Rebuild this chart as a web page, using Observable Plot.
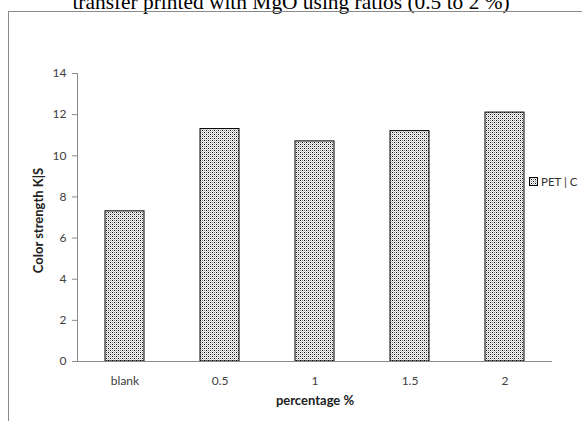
<!DOCTYPE html>
<html><head><meta charset="utf-8">
<script src="https://cdn.jsdelivr.net/npm/d3@7"></script>
<script src="https://cdn.jsdelivr.net/npm/@observablehq/plot@0.6"></script>
<style>
body{margin:0;background:#fff;width:582px;height:421px;overflow:hidden;position:relative;}
#title{position:absolute;left:0;width:582px;top:-10px;text-align:center;font-family:"Liberation Serif","Times New Roman",serif;font-size:21.4px;color:#000;white-space:nowrap;}
#frame{position:absolute;left:8px;top:11px;width:600px;height:440px;border:1px solid #8a8a8a;}
#chart{position:absolute;left:0;top:0;}
#legend{position:absolute;left:529px;top:175px;font-family:Lato,"Open Sans",sans-serif;font-size:11.5px;color:#333;display:flex;align-items:center;}
#legend svg{margin-right:3px;}
</style></head>
<body>
<div id="title">transfer printed with MgO using ratios (0.5 to 2 %)</div>
<div id="frame"></div>
<div id="chart"></div>
<div id="legend"></div>
<script>
const categories = ["blank", "0.5", "1", "1.5", "2"];
const values = [7.3, 11.3, 10.7, 11.2, 12.1];
const yTicks = [0, 2, 4, 6, 8, 10, 12, 14];
const seriesName = "PET | C";

const data = categories.map((c, i) => ({cat: c, v: values[i]}));
const font = "Lato, 'Open Sans', sans-serif";

const chart = Plot.plot({
  width: 582, height: 421,
  marginLeft: 77, marginRight: 30, marginTop: 73, marginBottom: 60,
  style: {fontFamily: font, fontSize: "12px", color: "#404040", background: "transparent"},
  x: {domain: categories, paddingInner: 0.59, paddingOuter: 0.295, label: null},
  y: {domain: [0, 14], ticks: yTicks, label: null},
  marks: [
    Plot.barY(data, {x: "cat", y: "v", fill: "url(#dots)", stroke: "#000", strokeWidth: 1}),
    Plot.ruleY([0], {stroke: "#8a8a8a", insetLeft: -3}),
    Plot.frame({anchor: "left", stroke: "#8a8a8a"}),
    Plot.axisY({ticks: yTicks, tickSize: 5, tickPadding: 6, fontSize: 12, stroke: "#8a8a8a", label: null}),
    Plot.axisX({tickSize: 0, tickPadding: 15, fontSize: 12, label: null}),
    Plot.text(["percentage %"], {frameAnchor: "bottom", dy: 43, fontWeight: "bold", fontSize: 13, fill: "#222"}),
    Plot.text(["Color strength K|S"], {frameAnchor: "left", textAnchor: "middle", dx: -39, dy: 3, rotate: -90, fontWeight: "bold", fontSize: 13, fill: "#222"})
  ]
});

const ns = "http://www.w3.org/2000/svg";
function addPattern(svg, id) {
  const defs = document.createElementNS(ns, "defs");
  defs.innerHTML = `<pattern id="${id}" width="4" height="4" patternUnits="userSpaceOnUse">
    <rect width="4" height="4" fill="#ffffff"/>
    <rect x="0" y="0" width="1" height="1" fill="#000"/>
    <rect x="2" y="2" width="1" height="1" fill="#000"/>
    <rect x="2" y="0" width="1" height="1" fill="#7c7c7c"/>
    <rect x="0" y="2" width="1" height="1" fill="#7c7c7c"/>
    <rect x="1" y="1" width="1" height="1" fill="#c8c8c8"/>
    <rect x="3" y="3" width="1" height="1" fill="#c8c8c8"/>
    <rect x="1" y="3" width="1" height="1" fill="#c8c8c8"/>
    <rect x="3" y="1" width="1" height="1" fill="#c8c8c8"/>
  </pattern>`;
  svg.insertBefore(defs, svg.firstChild);
}
addPattern(chart, "dots");
document.getElementById("chart").appendChild(chart);

const leg = document.getElementById("legend");
const sw = document.createElementNS(ns, "svg");
sw.setAttribute("width", 9); sw.setAttribute("height", 9);
addPattern(sw, "dots2");
const r = document.createElementNS(ns, "rect");
r.setAttribute("x", 0.5); r.setAttribute("y", 0.5); r.setAttribute("width", 8); r.setAttribute("height", 8);
r.setAttribute("fill", "url(#dots2)"); r.setAttribute("stroke", "#000");
sw.appendChild(r);
leg.appendChild(sw);
const t = document.createElement("span"); t.textContent = seriesName; leg.appendChild(t);
</script>
</body></html>
